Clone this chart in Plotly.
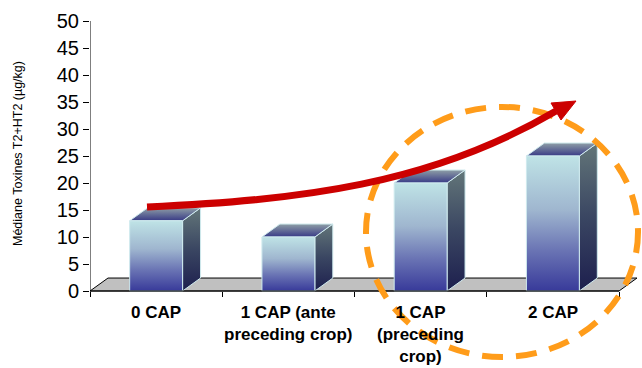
import plotly.graph_objects as go

# ---- data ----
categories = ["0 CAP", "1 CAP (ante<br>preceding crop)", "1 CAP<br>(preceding<br>crop)", "2 CAP"]
values = [13, 10, 20, 25]
y_ticks = [0, 5, 10, 15, 20, 25, 30, 35, 40, 45, 50]
y_title = "Médiane Toxines T2+HT2 (µg/kg)"

# ---- style constants ----
FONT = "Liberation Sans, Arial, sans-serif"
BAR_HALF = 0.2
DX = 0.136   # 3D depth offset (x units)
DY = 2.4     # 3D depth offset (y units)
W, H = 642, 368
ML = 90
PX_PER_X = 132.25
PX_PER_Y = 5.4
Y0_PX = 291

X_MIN = -0.5
X_MAX = X_MIN + (W - ML) / PX_PER_X
Y_RANGE = [-(H - Y0_PX) / PX_PER_Y, (Y0_PX) / PX_PER_Y]


def px2x(px):
    return (px - ML) / PX_PER_X + X_MIN


def px2y(py):
    return (Y0_PX - py) / PX_PER_Y


fig = go.Figure()

n = len(categories)
xl, xr = -0.5, n - 0.5

# floor
fig.add_trace(go.Scatter(
    x=[xl, xr, xr + DX, xl + DX, xl], y=[0, 0, DY, DY, 0],
    mode="lines", fill="toself", fillcolor="#c0c0c0",
    line=dict(color="black", width=1), hoverinfo="skip"))

front_cs = [[0, "#383a9a"], [0.3, "#6a74b4"], [0.6, "#9fb6cf"], [1, "#bfe3e6"]]
side_cs = [[0, "#1d1f4e"], [0.5, "#3a4662"], [1, "#637679"]]
top_cs = [[0, "#383a86"], [1, "#8e9ea6"]]
edge = dict(color="#cfeaee", width=1)

for i, v in enumerate(values):
    l, r = i - BAR_HALF, i + BAR_HALF
    # side face
    fig.add_trace(go.Scatter(
        x=[r, r + DX, r + DX, r, r], y=[0, DY, v + DY, v, 0],
        mode="lines", fill="toself", line=edge, hoverinfo="skip",
        fillgradient=dict(type="vertical", colorscale=side_cs)))
    # top face
    fig.add_trace(go.Scatter(
        x=[l, r, r + DX, l + DX, l], y=[v, v, v + DY, v + DY, v],
        mode="lines", fill="toself", line=edge, hoverinfo="skip",
        fillgradient=dict(type="vertical", colorscale=top_cs)))
    # front face
    fig.add_trace(go.Scatter(
        x=[l, r, r, l, l], y=[0, 0, v, v, 0],
        mode="lines", fill="toself", line=edge, hoverinfo="skip",
        fillgradient=dict(type="vertical", colorscale=front_cs)))

shapes = []
# axis lines
shapes.append(dict(type="line", xref="x", yref="y", x0=xl, x1=xl, y0=0, y1=50,
                   line=dict(color="black", width=1)))
shapes.append(dict(type="line", xref="x", yref="y", x0=xl, x1=xr, y0=0, y1=0,
                   line=dict(color="black", width=1)))

# dashed orange ellipse (decoration)
shapes.append(dict(type="circle", xref="x", yref="y", layer="above",
                   x0=px2x(366), x1=px2x(638), y0=px2y(357), y1=px2y(107),
                   line=dict(color="#ff9c1a", width=6, dash="21px,13px")))

# red trend arrow (decoration)
p0, c1, c2, p1 = (147, 207), (300, 200), (430, 185), (556, 111)
path = "M {},{} C {},{} {},{} {},{}".format(
    px2x(p0[0]), px2y(p0[1]), px2x(c1[0]), px2y(c1[1]),
    px2x(c2[0]), px2y(c2[1]), px2x(p1[0]), px2y(p1[1]))
shapes.append(dict(type="path", xref="x", yref="y", layer="above", path=path,
                   line=dict(color="#cc0000", width=7)))
tip, b1, b2 = (576, 101), (551, 103), (561, 120)
head = "M {},{} L {},{} L {},{} Z".format(
    px2x(tip[0]), px2y(tip[1]), px2x(b1[0]), px2y(b1[1]), px2x(b2[0]), px2y(b2[1]))
shapes.append(dict(type="path", xref="x", yref="y", layer="above", path=head,
                   fillcolor="#cc0000", line=dict(color="#cc0000", width=1)))

annotations = []
for i, c in enumerate(categories):
    annotations.append(dict(x=i, y=0, xref="x", yref="y", text="<b>" + c + "</b>",
                            showarrow=False, yanchor="top", xanchor="center",
                            yshift=-10, font=dict(family=FONT, size=17, color="black")))
annotations.append(dict(xref="paper", yref="paper", x=(18 - ML) / (W - ML),
                        y=1 - 154 / H, text=y_title, textangle=-90, showarrow=False,
                        xanchor="center", yanchor="middle",
                        font=dict(family=FONT, size=12.5, color="black")))

fig.update_layout(
    width=W, height=H,
    margin=dict(l=ML, r=0, t=0, b=0, pad=0),
    paper_bgcolor="white", plot_bgcolor="white",
    showlegend=False,
    shapes=shapes, annotations=annotations,
    xaxis=dict(range=[X_MIN, X_MAX], tickvals=[k - 0.5 for k in range(n + 1)],
               showticklabels=False, ticks="outside", ticklen=5, tickcolor="black",
               anchor="free", position=(H - Y0_PX) / H,
               showgrid=False, zeroline=False, showline=False, fixedrange=True),
    yaxis=dict(range=Y_RANGE, tickvals=y_ticks, ticks="outside", ticklen=6,
               tickcolor="black", tickfont=dict(family=FONT, size=20, color="black"),
               showgrid=False, zeroline=False, showline=False, fixedrange=True),
)

fig.write_html("out.html")
